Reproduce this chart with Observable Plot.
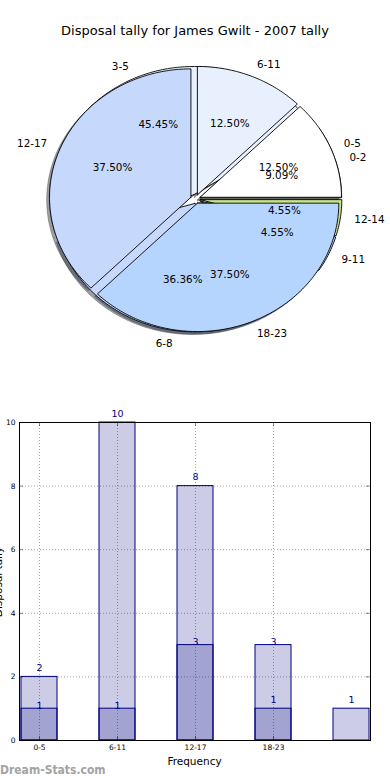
<!DOCTYPE html>
<html>
<head>
<meta charset="utf-8">
<script src="https://cdn.jsdelivr.net/npm/d3@7"></script>
<script src="https://cdn.jsdelivr.net/npm/@observablehq/plot@0.6"></script>
<style>
  body { margin: 0; background: #fff; font-family: "DejaVu Sans", sans-serif; }
  #wrap { position: relative; width: 390px; height: 780px; overflow: hidden; background: #fff; }
  #title { position: absolute; left: 0; top: 23.8px; width: 390px; text-align: center; font-size: 13px; line-height: 13px; color: #000; white-space: nowrap; }
  #pie { position: absolute; left: 0; top: 40px; }
  #bar { position: absolute; left: 0; top: 400px; }
  #xlabel { position: absolute; left: 19px; width: 351px; top: 755.5px; text-align: center; font-size: 10.5px; line-height: 10.5px; color: #000; }
  #wm { position: absolute; left: 0; top: 764px; font-family: "DejaVu Sans Condensed", "DejaVu Sans", sans-serif; font-weight: bold; font-size: 12px; line-height: 12px; color: #a3a3a3; white-space: nowrap; }
</style>
</head>
<body>
<div id="wrap">
  <div id="title"></div>
  <div id="pie"></div>
  <div id="bar"></div>
  <div id="xlabel"></div>
  <div id="wm"></div>
</div>
<script>
// ---- data ----
const chartTitle = "Disposal tally for James Gwilt - 2007 tally";
const pie1Labels = ["0-2", "3-5", "6-8", "9-11", "12-14"];
const pie1Values = [2, 10, 8, 1, 1];
const pie2Labels = ["0-5", "6-11", "12-17", "18-23"];
const pie2Values = [1, 1, 3, 3];
const sliceColors = ["#ffffff", "#e8f0fe", "#c6d9fd", "#b5d5ff", "#c9e38a"];
const barTickLabels = ["0-5", "6-11", "12-17", "18-23"];
const yTicks = [0, 2, 4, 6, 8, 10];
const xAxisLabel = "Frequency";
const yAxisLabel = "Disposal tally";
const watermark = "Dream-Stats.com";

document.getElementById("title").textContent = chartTitle;
document.getElementById("xlabel").textContent = xAxisLabel;
document.getElementById("wm").textContent = watermark;

// ---- pie geometry ----
const explode = 0.035, labelDist = 1.1, pctDist = 0.6, shadowOff = 0.02;
function wedges(labels, values, id) {
  const total = d3.sum(values);
  let acc = 0;
  return values.map((v, i) => {
    const t1 = acc / total * 360; acc += v; const t2 = acc / total * 360;
    const mid = (t1 + t2) / 2 * Math.PI / 180;
    const ox = explode * Math.cos(mid), oy = explode * Math.sin(mid);
    const n = Math.max(2, Math.ceil(t2 - t1));
    const pts = [{x: ox, y: oy}];
    for (let k = 0; k <= n; k++) {
      const a = (t1 + (t2 - t1) * k / n) * Math.PI / 180;
      pts.push({x: ox + Math.cos(a), y: oy + Math.sin(a)});
    }
    pts.push({x: ox, y: oy});
    return {
      key: id + i, label: labels[i], pct: (v / total * 100).toFixed(2) + "%",
      color: sliceColors[i], pts,
      lx: ox + labelDist * Math.cos(mid), ly: oy + labelDist * Math.sin(mid),
      px: ox + pctDist * Math.cos(mid), py: oy + pctDist * Math.sin(mid)
    };
  });
}
const w1 = wedges(pie1Labels, pie1Values, "a");
const w2 = wedges(pie2Labels, pie2Values, "b");
const all = [...w1, ...w2];

const shadowMarks = all.map(w => {
  const c = d3.rgb(w.color);
  const sc = d3.rgb(c.r * 0.3, c.g * 0.3, c.b * 0.3).formatHex();
  return Plot.line(w.pts.map(p => ({x: p.x - shadowOff, y: p.y - shadowOff})),
    {x: "x", y: "y", fill: sc, fillOpacity: 0.5, stroke: sc, strokeOpacity: 0.5, strokeWidth: 0.8});
});
const wedgeMarks = all.map(w => Plot.line(w.pts, {x: "x", y: "y", fill: w.color, stroke: "#000", strokeWidth: 0.9}));
const textOpts = {fontSize: 10.4, fill: "#000"};
const labelMarks = [
  Plot.text(all.filter(w => w.lx >= 0), {x: "lx", y: "ly", text: "label", textAnchor: "start", ...textOpts}),
  Plot.text(all.filter(w => w.lx < 0), {x: "lx", y: "ly", text: "label", textAnchor: "end", ...textOpts}),
  Plot.text(all, {x: "px", y: "py", text: "pct", textAnchor: "middle", ...textOpts})
];

const rx = 141.4, ry = 128.4, cx = 195, cy = 198.5 - 40, pieH = 320;
const pie = Plot.plot({
  width: 390, height: pieH, margin: 0,
  style: {fontFamily: "DejaVu Sans", background: "transparent"},
  x: {domain: [-cx / rx, (390 - cx) / rx], axis: null},
  y: {domain: [-(pieH - cy) / ry, cy / ry], axis: null},
  marks: [...shadowMarks, ...wedgeMarks, ...labelMarks]
});
document.getElementById("pie").appendChild(pie);

// ---- bar chart ----
const barRows = [
  ...pie1Values.map((v, i) => ({pos: i, v, s: "A"})),
  ...pie2Values.map((v, i) => ({pos: i, v, s: "B"}))
];
const tickPos = barTickLabels.map((_, i) => i);
const bW = 390, bH = 380, mL = 19, mR = 20, mT = 22, mB = 40;
const innerW = bW - mL - mR, innerH = bH - mT - mB;
const gridStyle = {stroke: "#000", strokeOpacity: 0.35, strokeWidth: 1, strokeDasharray: "1,2"};
const tickStyle = {stroke: "#000", strokeOpacity: 0.45, strokeWidth: 1};
const bar = Plot.plot({
  width: bW, height: bH, marginLeft: mL, marginRight: mR, marginTop: mT, marginBottom: mB,
  style: {fontFamily: "DejaVu Sans", background: "transparent"},
  x: {type: "band", domain: d3.range(pie1Values.length), paddingInner: 0.543, paddingOuter: 0, axis: null},
  y: {domain: [0, 10], axis: null},
  marks: [
    Plot.barY(barRows, {x: "pos", y1: 0, y2: "v", fill: "#000080", fillOpacity: 0.2, stroke: "#000080", strokeWidth: 1}),
    Plot.ruleY(yTicks.slice(1, -1), gridStyle),
    Plot.ruleX(tickPos, {x: d => d, ...gridStyle}),
    Plot.tickY(yTicks, {y: d => d, insetRight: innerW - 4, ...tickStyle}),
    Plot.tickY(yTicks, {y: d => d, insetLeft: innerW - 4, ...tickStyle}),
    Plot.tickX(tickPos, {x: d => d, insetTop: innerH - 4, ...tickStyle}),
    Plot.tickX(tickPos, {x: d => d, insetBottom: innerH - 4, ...tickStyle}),
    Plot.frame({stroke: "#000", strokeWidth: 1}),
    Plot.axisY({ticks: yTicks, tickSize: 0, tickPadding: 4, fontSize: 7.5, label: null}),
    Plot.axisX({ticks: tickPos, tickFormat: i => barTickLabels[i], tickSize: 0, tickPadding: 4, fontSize: 7.5, label: null}),
    Plot.text(barRows.filter(d => d.s === "A"), {x: "pos", y: "v", text: d => String(d.v), dy: -9, fill: "#000080", fontSize: 9.5}),
    Plot.text(barRows.filter(d => d.s === "B"), {x: "pos", y: "v", text: d => String(d.v), dy: -3, fill: "#000080", fontSize: 9.5})
  ]
});
d3.select(bar).append("text")
  .attr("transform", "translate(2,182) rotate(-90)")
  .attr("text-anchor", "middle")
  .attr("font-size", 10.5)
  .attr("font-family", "DejaVu Sans")
  .attr("fill", "#000")
  .text(yAxisLabel);
document.getElementById("bar").appendChild(bar);
</script>
</body>
</html>
